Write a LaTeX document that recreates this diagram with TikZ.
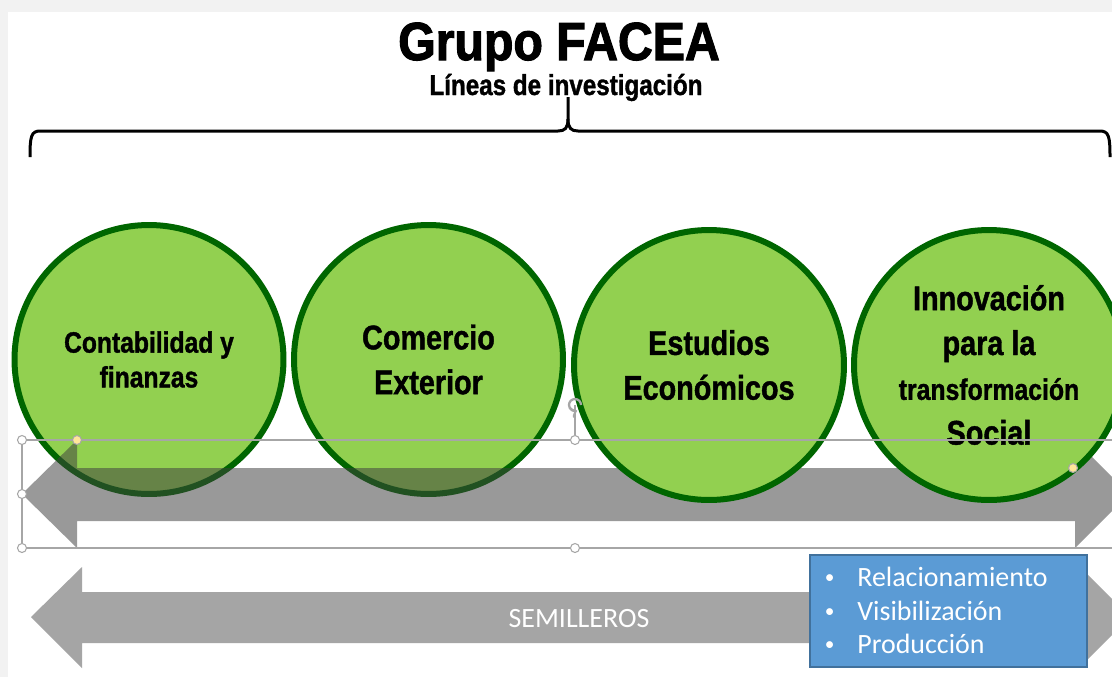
\documentclass[tikz,border=0pt]{standalone}
\usepackage{fontspec}
\newfontfamily\headfont[FakeStretch=0.9, FakeBold=2]{Liberation Sans}
\newfontfamily\linefont[FakeStretch=0.84, FakeBold=1.2]{Liberation Sans}
\newfontfamily\bodyfont{Carlito}
\usepackage{xcolor}
\usepackage{tikz}
\usetikzlibrary{shapes,arrows,positioning,calc}

\definecolor{lgreen}{HTML}{92D050}
\definecolor{dgreen}{HTML}{006600}
\definecolor{bandgrey}{HTML}{3F3F3F}
\definecolor{semgrey}{HTML}{A5A5A5}
\definecolor{boxblue}{HTML}{5B9BD5}
\definecolor{boxline}{HTML}{41719C}
\definecolor{selgrey}{HTML}{A6A6A6}
\definecolor{pagegrey}{HTML}{F2F2F2}
\definecolor{hyellow}{HTML}{FFE699}

\newcommand{\bul}{\makebox[0.7cm][l]{\hspace{0.05cm}\raisebox{0.08em}{\fontsize{11}{11}\selectfont\textbullet}}}

\begin{document}
\begin{tikzpicture}[
    x=0.02cm, y=-0.02cm,
    lnode/.style={draw=dgreen, fill=lgreen, circle, line width=0.12cm, inner sep=0pt, align=center},
    bigtxt/.style={font=\linefont\bfseries\fontsize{19.5}{25.5}\selectfont},
    handle/.style={draw=selgrey, fill=white, circle, line width=0.6pt, minimum size=0.18cm, inner sep=0pt},
    yhandle/.style={handle, fill=hyellow},
    selline/.style={draw=selgrey, line width=0.6pt},
    item/.style={anchor=base west, inner sep=0pt, text=white, font=\bodyfont\fontsize{15.9}{19}\selectfont}
  ]

  \useasboundingbox (0,0) rectangle (1112,677);
  \clip (0,0) rectangle (1112,677);
  \fill[pagegrey] (0,0) rectangle (1112,677);
  \fill[white] (8,12) rectangle (1112,677);

  % 标题
  \node[font=\headfont\bfseries\fontsize{30.5}{34}\selectfont, anchor=base] (titulo) at (559,60) {Grupo FACEA};
  \node[font=\linefont\bfseries\fontsize{16.4}{19}\selectfont, anchor=base] (lineas) at (566,95) {Líneas de investigación};

  % 括号
  \draw[line width=0.06cm] (30,157) .. controls (30,137) and (31,131) .. (40,131) -- (558,131)
    .. controls (565,131) and (568,128) .. (568,119) -- (568,97);
  \draw[line width=0.06cm] (568,119) .. controls (568,128) and (571,131) .. (578,131) -- (1100,131)
    .. controls (1109,131) and (1110,137) .. (1110,157);

  % 研究方向
  \node[lnode, minimum size=5.38cm, font=\linefont\bfseries\fontsize{16.7}{19.8}\selectfont] (conta) at (149,359.5) {Contabilidad y\\finanzas};
  \node[lnode, bigtxt, minimum size=5.38cm] (comer) at (428.5,359.5) {Comercio\\Exterior};

  \fill[bandgrey, fill opacity=0.53] (22,494) -- (77,440) -- (77,468) -- (1075,468) -- (1075,440)
    -- (1129,494) -- (1075,548) -- (1075,521) -- (77,521) -- (77,548) -- cycle;

  \node[lnode, bigtxt, minimum size=5.4cm] (estud) at (709,365) {Estudios\\Económicos};
  \node[lnode, bigtxt, minimum size=5.4cm] (innov) at (989,365)
    {Innovación\\para la\\{\fontsize{16.8}{25.5}\selectfont transformación}\\Social};

  % 半圆
  \fill[semgrey] (31,617) -- (82,567) -- (82,592) -- (1080,592) -- (1080,567) -- (1130,617)
    -- (1080,667) -- (1080,643) -- (82,643) -- (82,668) -- cycle;
  \node[text=white, font=\bodyfont\fontsize{15.9}{19}\selectfont, anchor=base] (semi) at (579,627) {SEMILLEROS};

  \node[draw=boxline, fill=boxblue, line width=0.04cm, minimum width=5.54cm, minimum height=2.24cm, inner sep=0pt] (caja) at (948.5,611) {};
  \node[item] (rel) at (822,586) {\bul Relacionamiento};
  \node[item] (vis) at (822,620) {\bul Visibilización};
  \node[item] (pro) at (822,653) {\bul Producción};

  % 选择框
  \coordinate (snw) at (22,440);
  \coordinate (sse) at (1140,548);
  \coordinate (rot) at (575,405);
  \draw[selline] (snw) rectangle (sse);
  \node[handle] (h1) at (22,440) {};
  \node[handle] (h2) at (22,494) {};
  \node[handle] (h3) at (22,548) {};
  \node[handle] (h4) at (575,440) {};
  \node[handle] (h5) at (575,548) {};
  \draw[selline] (h4) -- (rot);
  \draw[selgrey, line width=1.3pt, ->] (rot) ++(0.12cm,0) arc[start angle=0, end angle=290, radius=0.12cm];
  \node[yhandle] (y1) at (77,440) {};
  \node[yhandle] (y2) at (1073,468) {};
\end{tikzpicture}
\end{document}
